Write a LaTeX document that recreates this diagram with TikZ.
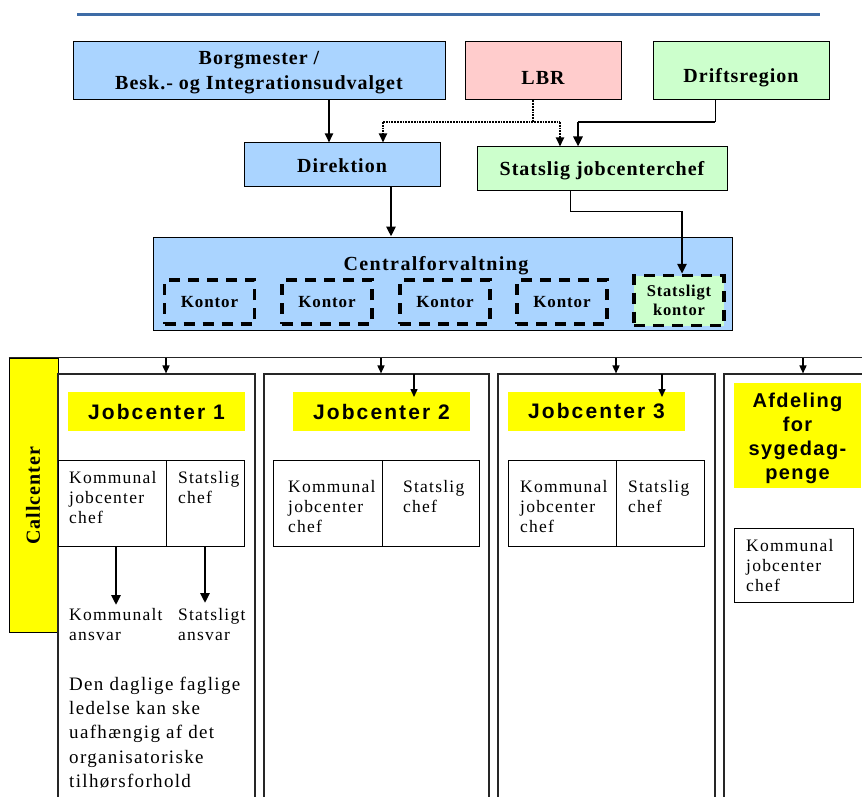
\documentclass[tikz,border=0pt]{standalone}
\usepackage{fontspec}
\setmainfont{Liberation Serif}
\newfontfamily\trk[LetterSpace=5]{Liberation Serif}
\newfontfamily\trkb[LetterSpace=7]{Liberation Serif}
\newfontfamily\trkw[LetterSpace=7]{Liberation Serif}
\newfontfamily\ark[LetterSpace=10]{Liberation Sans}
\newfontfamily\arkn[LetterSpace=7]{Liberation Sans}
\usetikzlibrary{arrows.meta}
\definecolor{lblue}{RGB}{170,212,255}
\definecolor{lpink}{RGB}{255,204,204}
\definecolor{lgreen}{RGB}{204,255,204}
\definecolor{yel}{RGB}{255,255,0}
\definecolor{topblue}{RGB}{62,108,166}
\tikzset{
  box/.style={draw, line width=1pt, inner sep=0pt, align=center},
  hdr/.style={inner sep=0pt, align=center, font={\trk\bfseries\fontsize{20}{25}\selectfont}},
  kont/.style={draw, line width=3.5pt, dash pattern=on 11pt off 8pt, inner sep=0pt, align=center,
     minimum height=44pt, minimum width=90pt, font={\trk\bfseries\fontsize{17}{19}\selectfont}},
  jc/.style={fill=yel, inner sep=0pt, align=center, font={\ark\bfseries\fontsize{21}{24}\selectfont}},
  col/.style={draw=black!85, line width=1.1pt, inner sep=0pt, minimum height=456pt},
  cell/.style={draw, line width=1pt, inner sep=0pt},
  body/.style={inner sep=0pt, anchor=north west, align=left, font={\trkb\fontsize{17.5}{20}\selectfont}},
  big/.style={inner sep=0pt, anchor=north west, align=left, font={\trkb\fontsize{19}{24.2}\selectfont}},
  arr/.style={-{Triangle[length=9pt,width=8pt]}, line width=2pt},
  thk/.style={-{Triangle[length=10pt,width=9pt]}, line width=2.6pt},
  sarr/.style={-{Triangle[length=8pt,width=7pt]}, line width=1.5pt},
  dotl/.style={line width=1.8pt, densely dotted},
}
\begin{document}
\begin{tikzpicture}[x=1pt,y=-1pt]
\useasboundingbox (0,0) rectangle (862,797);
\clip (0,0) rectangle (862,797);

% top rule
\draw[topblue, line width=3pt] (77,15) -- (820,15);

% top boxes
\node[box, fill=lblue, minimum width=372pt, minimum height=58pt] (borg) at (259,71) {};
\node[hdr] (borgt) at (259,72.5) {Borgmester /\\Besk.- og Integrationsudvalget};
\node[box, fill=lpink, minimum width=156pt, minimum height=58pt] (lbr) at (543,71) {};
\node[hdr] (lbrt) at (543,77.5) {LBR};
\node[box, fill=lgreen, minimum width=176pt, minimum height=58pt] (drift) at (741,71) {};
\node[hdr] (driftt) at (741,77.5) {Driftsregion};
\node[box, fill=lblue, minimum width=196pt, minimum height=43pt] (direk) at (342,164.5) {};
\node[hdr] (direkt) at (342,166) {Direktion};
\node[box, fill=lgreen, minimum width=250pt, minimum height=43pt] (stat) at (602,168.5) {};
\node[hdr] (statt) at (602,170.5) {Statslig jobcenterchef};

% central administration
\node[box, fill=lblue, minimum width=579pt, minimum height=93pt] (central) at (442.5,283.5) {};
\node[inner sep=0pt, font={\trkw\bfseries\fontsize{20}{22}\selectfont}] (centralt) at (436,266) {Centralforvaltning};
\node[kont] (k1) at (209.5,302) {Kontor};
\node[kont] (k2) at (327,302) {Kontor};
\node[kont] (k3) at (445,302) {Kontor};
\node[kont] (k4) at (562,302) {Kontor};
\node[kont, fill=lgreen, minimum height=50pt, font={\trk\bfseries\fontsize{16.5}{19}\selectfont}] (sk) at (679,300.5) {Statsligt\\kontor};

% connectors top
\coordinate (c1) at (329,0);
\draw[arr] (borg.south -| c1) -- (direk.north -| c1);
\coordinate (jL) at (533,122);
\coordinate (jLl) at (383,122);
\coordinate (jLr) at (560,122);
\draw[dotl] (lbr.south -| jL) -- (jL);
\draw[dotl] (jLl) -- (jLr);
\draw[dotl, -{Triangle[length=9pt,width=8pt]}] (jLl) -- (direk.north -| jLl);
\draw[dotl, -{Triangle[length=9pt,width=8pt]}] (jLr) -- (stat.north -| jLr);
\coordinate (jD) at (715,122);
\coordinate (jDl) at (578,122);
\draw[line width=1pt] (drift.south -| jD) -- (jD);
\draw[line width=2pt] (jD) -- (jDl);
\draw[thk] (jDl) -- (stat.north -| jDl);
\coordinate (c2) at (391,0);
\draw[thk] (direk.south -| c2) -- (central.north -| c2);
\coordinate (jS) at (570,211);
\coordinate (jSr) at (682,211);
\draw[line width=1pt] (stat.south -| jS) -- (jS) -- (jSr);
\draw[thk] (jSr) -- (sk.north -| jSr);

% bottom section
\node[box, fill=yel, minimum width=49pt, minimum height=274pt] (cc) at (33.5,495) {};
\node[inner sep=0pt, rotate=90, font={\trk\bfseries\fontsize{20}{22}\selectfont}] (cct) at (33,496) {Callcenter};
\draw[line width=1.1pt, black!85] (cc.north west) -- ++(860,0) coordinate (topend);

\node[col, minimum width=197pt] (col1) at (156.5,602) {};
\node[col, minimum width=225pt] (col2) at (376.5,602) {};
\node[col, minimum width=217pt] (col3) at (606.5,602) {};
\node[col, minimum width=176pt] (col4) at (812,602) {};

\foreach \xx/\cn in {166/col1, 381/col2, 616/col3, 803/col4}{
  \coordinate (t\cn) at (\xx,358);
  \draw[sarr] (t\cn) -- (t\cn |- \cn.north);
}

\node[jc, minimum width=177pt, minimum height=39pt] (jc1) at (156.5,411.5) {Jobcenter 1};
\node[jc, minimum width=177pt, minimum height=39pt] (jc2) at (381.5,411.5) {Jobcenter 2};
\node[jc, minimum width=177pt, minimum height=39pt] (jc3) at (596.5,411.5) {Jobcenter 3};
\node[fill=yel, inner sep=0pt, minimum width=127pt, minimum height=105pt] (afd) at (797.5,435.5) {};
\node[inner sep=0pt, align=center, font={\arkn\bfseries\fontsize{20}{24}\selectfont}] (afdt) at (797.5,438.5) {Afdeling\\for\\sygedag-\\penge};

\coordinate (b2) at (414,374);
\coordinate (b2e) at (414,397);
\draw[sarr] (b2) -- (b2e);
\coordinate (b3) at (662,374);
\coordinate (b3e) at (662,397);
\draw[sarr] (b3) -- (b3e);

% chef tables
\node[cell, minimum width=108pt, minimum height=86pt] (t1a) at (112,503) {};
\node[cell, minimum width=78pt, minimum height=86pt] (t1b) at (205,503) {};
\node[cell, minimum width=109pt, minimum height=86pt] (t2a) at (327.5,503) {};
\node[cell, minimum width=97pt, minimum height=86pt] (t2b) at (430.5,503) {};
\node[cell, minimum width=108pt, minimum height=86pt] (t3a) at (562,503) {};
\node[cell, minimum width=88pt, minimum height=86pt] (t3b) at (660,503) {};
\node[cell, minimum width=119pt, minimum height=74pt] (t4a) at (793.5,565) {};

\node[body] (x1a) at (69,471) {Kommunal\\jobcenter\\chef};
\node[body] (x1b) at (178,471) {Statslig\\chef};
\node[body] (x2a) at (288,480) {Kommunal\\jobcenter\\chef};
\node[body] (x2b) at (403,480) {Statslig\\chef};
\node[body] (x3a) at (520,480) {Kommunal\\jobcenter\\chef};
\node[body] (x3b) at (628,480) {Statslig\\chef};
\node[body] (x4a) at (746,539) {Kommunal\\jobcenter\\chef};

\node[body] (ka) at (69,608) {Kommunalt\\ansvar};
\node[body] (sa) at (178,608) {Statsligt\\ansvar};
\coordinate (a1) at (116,0);
\coordinate (a2) at (205,0);
\draw[thk] (t1a.south -| a1) -- ([yshift=3pt]ka.north -| a1);
\draw[thk] (t1b.south -| a2) -- ([yshift=5pt]sa.north -| a2);

\node[big] (daily) at (69,677) {Den daglige faglige\\ledelse kan ske\\uafhængig af det\\organisatoriske\\tilhørsforhold};
\end{tikzpicture}
\end{document}
